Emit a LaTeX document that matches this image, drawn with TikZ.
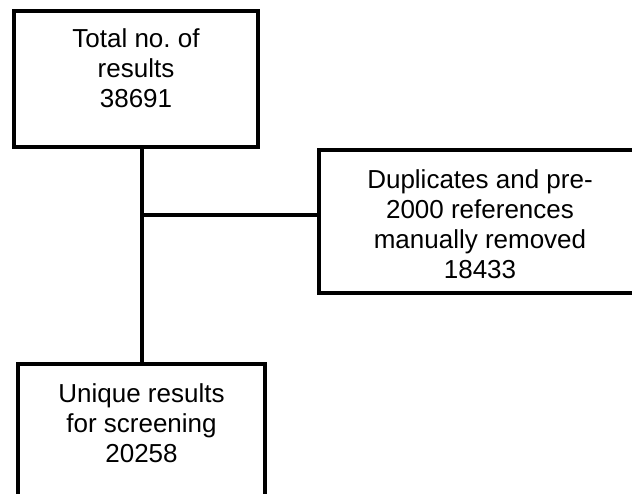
\documentclass[tikz,border=0pt]{standalone}
\usepackage{fontspec}
\setmainfont{Liberation Sans}
\usepackage{tikz}
\usetikzlibrary{positioning}
\frenchspacing

\begin{document}
\begin{tikzpicture}[x=1pt, y=1pt,
            box/.style={draw=black, line width=4pt, rectangle, inner sep=0pt},
            lbl/.style={align=center, inner sep=0pt, font=\fontsize{26}{30}\selectfont},
            link/.style={draw=black, line width=4pt}]
            \useasboundingbox (0,0) rectangle (632,494);
            \clip (0,0) rectangle (632,494);
            \node[box, minimum width=244pt, minimum height=136pt] (total) at (136,415) {};
            \node[box, minimum width=322pt, minimum height=143pt] (dup) at (480,272.5) {};
            \node[box, minimum width=247pt, minimum height=160pt] (uniq) at (141.5,50) {};
            \node[lbl, below=19pt] (totaltxt) at (total.north) {Total no. of\\results\\38691};
            \node[lbl, below=21pt] (duptxt) at (dup.north) {Duplicates and pre-\\2000 references\\manually removed\\18433};
            \node[lbl, below=21pt] (uniqtxt) at (uniq.north) {Unique results\\for screening\\20258};
            \coordinate (branch) at (141.5,279.3);
            \draw[link] (uniq.north) -- (uniq.north |- total.south);
            \draw[link] (branch) -- (branch -| dup.west);
        \end{tikzpicture}
\end{document}
